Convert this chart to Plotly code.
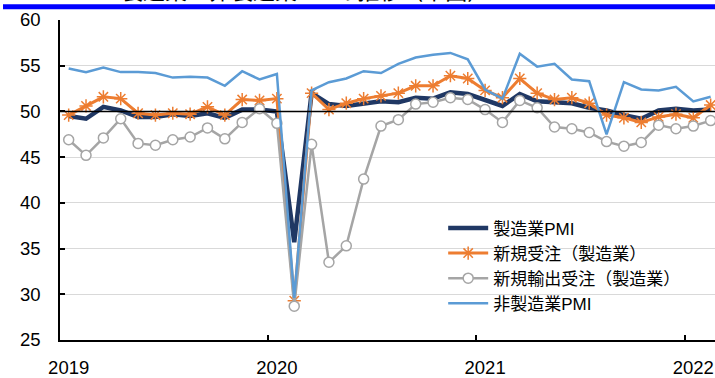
import plotly.graph_objects as go

# Monthly series, Jan 2019 - Feb 2022
months = [f"{y}-{m:02d}" for y in (2019, 2020, 2021) for m in range(1, 13)] + ["2022-01", "2022-02"]

mfg_pmi = [49.5, 49.2, 50.5, 50.1, 49.4, 49.4, 49.7, 49.5, 49.8, 49.3, 50.2, 50.2,
           50.0, 35.7, 52.0, 50.8, 50.6, 50.9, 51.1, 51.0, 51.5, 51.4, 52.1, 51.9,
           51.3, 50.6, 51.9, 51.1, 51.0, 50.9, 50.4, 50.1, 49.6, 49.2, 50.1, 50.3,
           50.1, 50.2]
new_orders = [49.6, 50.6, 51.6, 51.4, 49.8, 49.6, 49.8, 49.7, 50.5, 49.6, 51.3, 51.2,
              51.4, 29.3, 52.0, 50.2, 50.9, 51.4, 51.7, 52.0, 52.8, 52.8, 53.9, 53.6,
              52.3, 51.5, 53.6, 52.0, 51.3, 51.5, 50.9, 49.6, 49.3, 48.8, 49.4, 49.7,
              49.3, 50.7]
export_orders = [46.9, 45.2, 47.1, 49.2, 46.5, 46.3, 46.9, 47.2, 48.2, 47.0, 48.8, 50.3,
                 48.7, 28.7, 46.4, 33.5, 35.3, 42.6, 48.4, 49.1, 50.8, 51.0, 51.5, 51.3,
                 50.2, 48.8, 51.2, 50.4, 48.3, 48.1, 47.7, 46.7, 46.2, 46.6, 48.5, 48.1,
                 48.4, 49.0]
nonmfg_pmi = [54.7, 54.3, 54.8, 54.3, 54.3, 54.2, 53.7, 53.8, 53.7, 52.8, 54.4, 53.5,
              54.1, 29.6, 52.3, 53.2, 53.6, 54.4, 54.2, 55.2, 55.9, 56.2, 56.4, 55.7,
              52.4, 51.4, 56.3, 54.9, 55.2, 53.5, 53.3, 47.5, 53.2, 52.4, 52.3, 52.7,
              51.1, 51.6]

year_labels = ["2019", "2020", "2021", "2022"]

x = list(range(len(months)))
year_pos = [months.index(f"{y}-01") for y in year_labels]
year_bounds = [p - 0.5 for p in year_pos[1:]]

FONT = "Liberation Sans, Arial, Noto Sans CJK JP, sans-serif"

fig = go.Figure()
fig.add_trace(go.Scatter(
    x=x, y=mfg_pmi, name="製造業PMI", mode="lines",
    line=dict(color="#203864", width=4.5)))
fig.add_trace(go.Scatter(
    x=x, y=new_orders, name="新規受注（製造業）", mode="lines+markers",
    line=dict(color="#ED7D31", width=3),
    marker=dict(symbol="asterisk-open", size=11, color="#ED7D31",
                line=dict(color="#ED7D31", width=1.5))))
fig.add_trace(go.Scatter(
    x=x, y=export_orders, name="新規輸出受注（製造業）", mode="lines+markers",
    line=dict(color="#A5A5A5", width=2.5),
    marker=dict(symbol="circle", size=10, color="white",
                line=dict(color="#A5A5A5", width=1.5))))
fig.add_trace(go.Scatter(
    x=x, y=nonmfg_pmi, name="非製造業PMI", mode="lines",
    line=dict(color="#5B9BD5", width=2.5)))

# 50 reference line
fig.add_shape(type="line", xref="paper", yref="y", x0=0, x1=1, y0=50, y1=50,
              line=dict(color="black", width=1.5), layer="above")

# heading rule and heading text above the plot
fig.add_shape(type="rect", xref="paper", yref="paper",
              x0=-0.087, x1=1.0, y0=1.0336, y1=1.0489,
              fillcolor="#0000FF", line=dict(width=0), layer="above")
fig.add_annotation(text="製造業・非製造業PMIの推移（中国）", xref="paper", yref="paper",
                   x=0.374, y=1.0, xanchor="center", yanchor="bottom", yshift=13,
                   showarrow=False,
                   font=dict(family="Noto Sans CJK JP", size=22, color="black"))

fig.update_layout(
    width=715, height=378,
    margin=dict(l=60, r=0, t=20, b=31),
    paper_bgcolor="white", plot_bgcolor="white",
    font=dict(family=FONT, size=18.5, color="black"),
    showlegend=True,
    legend=dict(x=0.585, y=0.405, xanchor="left", yanchor="top",
                bgcolor="rgba(0,0,0,0)", font=dict(family=FONT, size=17),
                tracegroupgap=0, itemwidth=40),
)

fig.update_xaxes(
    range=[-0.5, 37.25], tickvals=year_pos, ticktext=year_labels,
    ticks="", showgrid=False, zeroline=False,
    showline=True, linecolor="black", linewidth=1.5,
    ticklabelstandoff=10,
    minor=dict(tickvals=year_bounds, ticks="inside", ticklen=5,
               tickcolor="black", tickwidth=1.5, showgrid=False),
)
fig.update_yaxes(
    range=[25, 60], dtick=5, tick0=25,
    showgrid=True, gridcolor="#D9D9D9", gridwidth=1,
    zeroline=False, showline=True, linecolor="black", linewidth=1.5,
    ticks="inside", ticklen=5, tickcolor="black", tickwidth=1.5,
    ticklabelstandoff=14,
)

fig.write_html("out.html")
